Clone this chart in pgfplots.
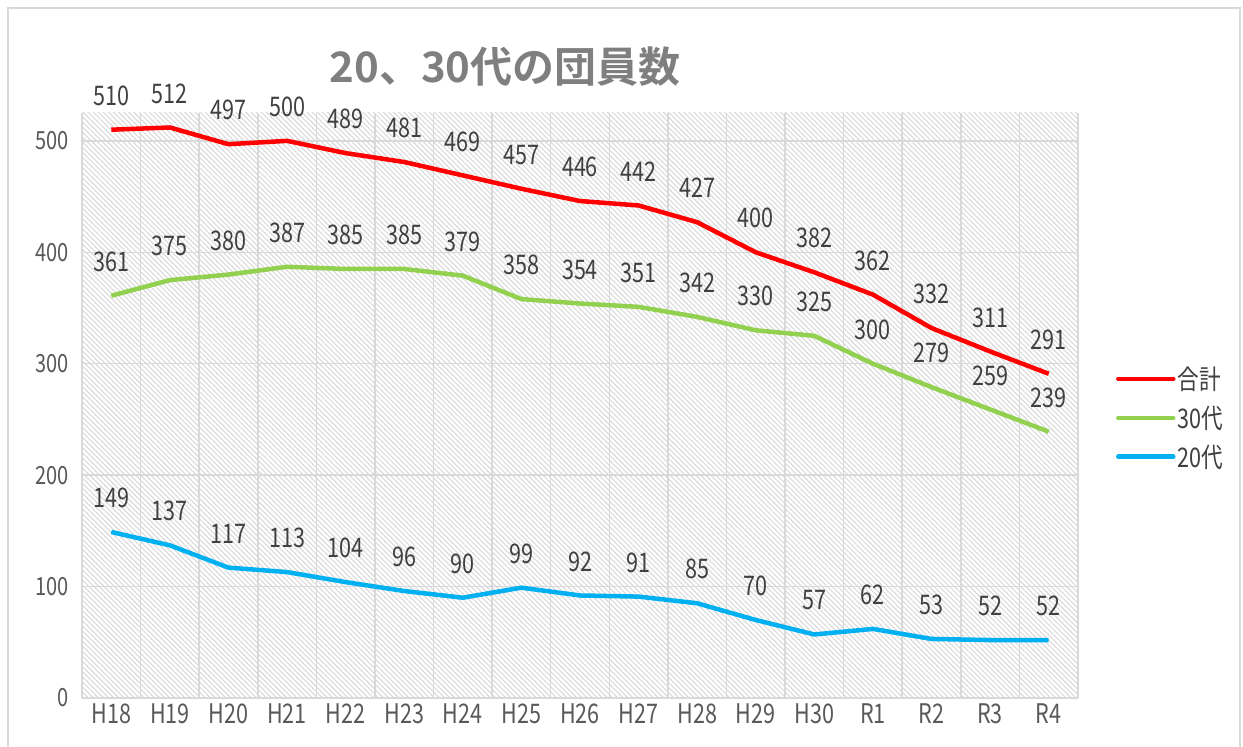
\documentclass[border=0pt]{standalone}
\usepackage{fontspec}
\setmainfont{Noto Sans CJK JP}[BoldFont={Noto Sans CJK JP Bold}]
\newfontfamily\lab{Noto Sans CJK JP}[FakeStretch=0.8]
\usepackage{pgfplots}
\pgfplotsset{compat=1.18}
\usetikzlibrary{patterns.meta}
\definecolor{cRed}{HTML}{FF0000}
\definecolor{cGreen}{HTML}{92D050}
\definecolor{cBlue}{HTML}{00B0F0}
\definecolor{cText}{HTML}{404040}
\definecolor{cTick}{HTML}{595959}
\definecolor{cGrid}{HTML}{D9D9D9}
\definecolor{cTitle}{HTML}{7F7F7F}
\begin{document}
\begin{tikzpicture}[x=1pt,y=1pt]
\path[use as bounding box] (0,0) rectangle (1243,747);
\draw[cGrid, line width=1.2pt] (8,-2) -- (8,739) -- (1240,739) -- (1240,-2);
\node[font=\fontsize{42}{48}\selectfont\bfseries, text=cTitle] at (505,680) {20、30代の団員数};
\begin{axis}[
  at={(82pt,49pt)}, anchor=south west,
  scale only axis, width=996pt, height=585pt,
  xmin=-0.5, xmax=16.5, ymin=0, ymax=525,
  xtick={0,...,16},
  xticklabels={H18,H19,H20,H21,H22,H23,H24,H25,H26,H27,H28,H29,H30,R1,R2,R3,R4},
  minor xtick={-0.5,0.5,...,16.5},
  ytick={0,100,200,300,400,500},
  xminorgrids=true, ymajorgrids=true,
  grid style={cGrid, line width=1.5pt},
  minor grid style={cGrid, line width=1.5pt},
  axis lines*=left,
  y axis line style={draw=none},
  x axis line style={cGrid, line width=1.5pt},
  tick style={draw=none},
  /pgf/number format/assume math mode=true,
  yticklabel style={font=\lab\fontsize{25}{28}\selectfont, text=cTick, xshift=-10pt},
  xticklabel style={font=\lab\fontsize{27}{30}\selectfont, text=cTick, yshift=-2pt},
  axis background/.style={pattern={Lines[angle=-45,distance=3.6pt,line width=1.1pt]}, pattern color=cGrid},
  nodes near coords,
  every node near coord/.style={font=\lab\fontsize{27}{30}\selectfont, text=cText, anchor=center, yshift=34pt},
  legend style={at={(1.038,0.57)}, anchor=north west, draw=none, fill=none, font=\lab\fontsize{27}{30}\selectfont, text=cText, row sep=11pt, inner sep=0pt},
  legend cell align=left,
  legend image code/.code={\draw[#1, line width=4.5pt, line cap=round] (0pt,0pt) -- (55pt,0pt);},
]
\addplot[cRed, line width=4.5pt, line join=round, no marks] coordinates {
(0,510) (1,512) (2,497) (3,500) (4,489) (5,481) (6,469) (7,457) (8,446) (9,442) (10,427) (11,400) (12,382) (13,362) (14,332) (15,311) (16,291)};
\addlegendentry{合計}
\addplot[cGreen, line width=4.5pt, line join=round, no marks] coordinates {
(0,361) (1,375) (2,380) (3,387) (4,385) (5,385) (6,379) (7,358) (8,354) (9,351) (10,342) (11,330) (12,325) (13,300) (14,279) (15,259) (16,239)};
\addlegendentry{30代}
\addplot[cBlue, line width=4.5pt, line join=round, no marks] coordinates {
(0,149) (1,137) (2,117) (3,113) (4,104) (5,96) (6,90) (7,99) (8,92) (9,91) (10,85) (11,70) (12,57) (13,62) (14,53) (15,52) (16,52)};
\addlegendentry{20代}
\end{axis}
\end{tikzpicture}
\end{document}
